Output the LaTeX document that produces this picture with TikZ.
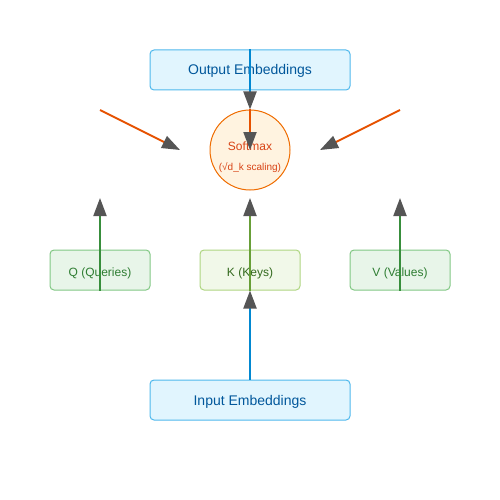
\documentclass[tikz,border=0pt]{standalone}
\usepackage{fontspec}
\setmainfont{Liberation Sans}
\usepackage{tikz}
\usetikzlibrary{arrows.meta}
\definecolor{embfill}{HTML}{E1F5FE}
\definecolor{embdraw}{HTML}{4FB8EC}
\definecolor{embtext}{HTML}{01579B}
\definecolor{embline}{HTML}{0288D1}
\definecolor{smfill}{HTML}{FFF3E0}
\definecolor{smdraw}{HTML}{EF6C00}
\definecolor{smtext}{HTML}{D84315}
\definecolor{smline}{HTML}{E65100}
\definecolor{qvfill}{HTML}{E8F5E9}
\definecolor{qvdraw}{HTML}{81C784}
\definecolor{qvtext}{HTML}{2E7D32}
\definecolor{qvline}{HTML}{388E3C}
\definecolor{kfill}{HTML}{F1F8E9}
\definecolor{kdraw}{HTML}{AED581}
\definecolor{ktext}{HTML}{33691E}
\definecolor{kline}{HTML}{689F38}
\definecolor{tipgray}{HTML}{555555}
\tikzset{>={Triangle[length=18pt,width=13pt,color=tipgray]}}
\tikzset{
  embbox/.style={draw=embdraw,fill=embfill,text=embtext,rounded corners=4pt,
    minimum width=200pt,minimum height=40pt,line width=1pt,
    text height=10pt,text depth=0pt,font=\fontsize{14}{16}\selectfont},
  qvbox/.style={draw=qvdraw,fill=qvfill,text=qvtext,rounded corners=4pt,
    minimum width=100pt,minimum height=40pt,line width=1pt,
    text height=12pt,text depth=0pt,font=\fontsize{12}{14}\selectfont},
  kbox/.style={qvbox,draw=kdraw,fill=kfill,text=ktext},
  conn/.style={->,line width=2pt},
}

\begin{document}
\begin{tikzpicture}[x=1pt,y=-1pt]
\useasboundingbox (0,0) rectangle (500,500);
    \node[embbox] (outemb) at (250,70) {Output Embeddings};
    \node[embbox] (inemb) at (250,400) {Input Embeddings};
    \node[circle,draw=smdraw,fill=smfill,line width=1pt,minimum size=80pt] (smax) at (250,150) {};
    \node[anchor=base,text=smtext,font=\fontsize{12}{14}\selectfont] (smaxlbl) at (250,150.3) {Softmax};
    \node[anchor=base,text=smtext,font=\fontsize{10}{12}\selectfont] (smaxscl) at (250,170.3) {(√d\_k scaling)};
    \node[qvbox] (qbox) at (100,270) {Q (Queries)};
    \node[kbox] (kbox) at (250,270) {K (Keys)};
    \node[qvbox] (vbox) at (400,270) {V (Values)};
    \coordinate (qtip) at (100,198);
    \coordinate (ktip) at (250,198);
    \coordinate (vtip) at (400,198);
    \coordinate (qfrom) at (100,110);
    \coordinate (qto) at (180,150);
    \coordinate (vfrom) at (400,110);
    \coordinate (vto) at (320,150);
    \draw[conn,embline] (inemb.north) -- (kbox.south);
    \draw[conn,qvline] (qbox.south) -- (qtip);
    \draw[conn,kline] (kbox.south) -- (ktip);
    \draw[conn,qvline] (vbox.south) -- (vtip);
    \draw[conn,smline] (qfrom) -- (qto);
    \draw[conn,smline] (vfrom) -- (vto);
    \draw[conn,embline] (outemb.north) -- (smax.north);
    \draw[conn,smline] (smax.north) -- (smax.center);
\end{tikzpicture}
\end{document}
